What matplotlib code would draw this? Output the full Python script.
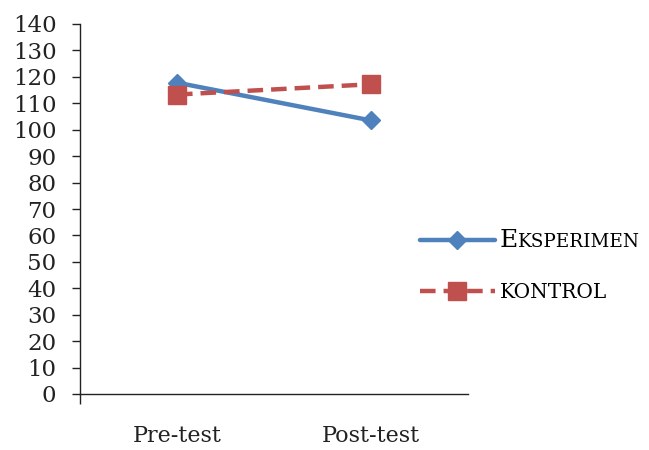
import matplotlib
matplotlib.use("Agg")
import matplotlib.pyplot as plt
from matplotlib.ticker import FixedLocator

# Data
categories = ["Pre-test", "Post-test"]
eksperimen = [117.8, 103.5]
kontrol = [113.3, 117.2]
y_ticks = list(range(0, 141, 10))

plt.rcParams["font.family"] = ["DejaVu Serif"]

fig = plt.figure(figsize=(6.49, 4.50), dpi=100)
ax = fig.add_axes([80 / 649, 1 - 394 / 450, 388 / 649, 370 / 450])

x = list(range(len(categories)))
blue = "#4F81BD"
red = "#C0504D"

l1, = ax.plot(x, eksperimen, color=blue, lw=3.2, marker="D", ms=9.5,
              markeredgecolor=blue, solid_capstyle="round", zorder=3)
l2, = ax.plot(x, kontrol, color=red, lw=3.2, ls=(0, (3.5, 1.8)), marker="s",
              ms=12.5, markeredgecolor=red, zorder=4)

ax.set_xlim(-0.5, len(categories) - 0.5)
ax.set_ylim(0, 140)
ax.set_yticks(y_ticks)
ax.set_xticks(x)
ax.set_xticklabels(categories, fontsize=16)
ax.xaxis.set_minor_locator(FixedLocator([-0.5]))
ax.tick_params(axis="x", which="major", length=0, pad=22)
ax.tick_params(axis="x", which="minor", length=7, width=1.0, direction="out")
ax.tick_params(axis="y", length=6, width=1.0, direction="out", pad=11,
               labelsize=16.5)

for s in ("top", "right"):
    ax.spines[s].set_visible(False)
for s in ("left", "bottom"):
    ax.spines[s].set_linewidth(1.0)
    ax.spines[s].set_color("#222222")
ax.tick_params(colors="#222222", which="both")

# Legend: first label in small caps (large initial, smaller remainder)
leg = fig.legend([l1, l2], ["E", "KONTROL"],
                 loc="center left", bbox_to_anchor=(420 / 649, 1 - 265.5 / 450),
                 frameon=False, fontsize=14.5, handlelength=3.7,
                 handletextpad=0.25, labelspacing=1.5, borderpad=0,
                 borderaxespad=0)
leg.texts[0].set_fontsize(18)
fig.canvas.draw()
ax.annotate("KSPERIMEN", xy=(1, 0), xycoords=leg.texts[0], xytext=(0.2, 1.0),
            textcoords="offset points", ha="left", va="bottom",
            fontsize=13.2, color="black", annotation_clip=False)

fig.savefig("out.png", dpi=100)
